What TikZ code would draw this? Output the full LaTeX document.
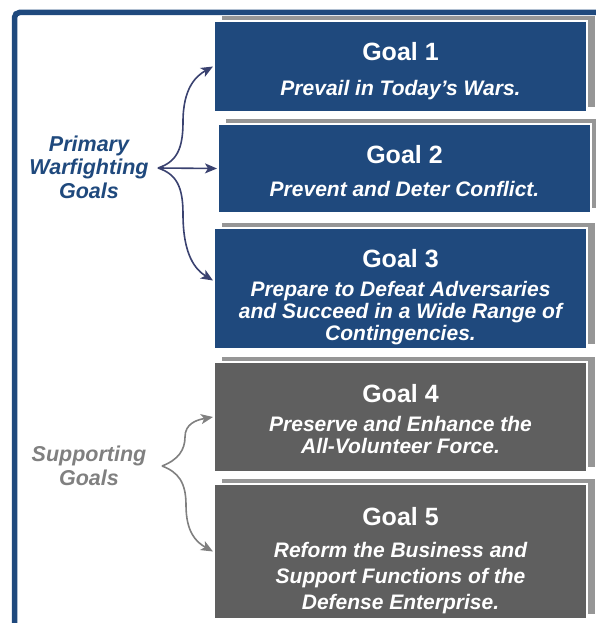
\documentclass[tikz,border=0pt]{standalone}
\usepackage{fontspec}
\setmainfont{Liberation Sans}
\usetikzlibrary{arrows.meta,positioning,shadows}
\definecolor{goalblue}{RGB}{31,73,125}
\definecolor{goalgray}{RGB}{95,95,95}
\definecolor{shadegray}{RGB}{150,150,150}
\definecolor{arrowblue}{RGB}{58,66,112}
\definecolor{arrowgray}{RGB}{128,128,128}
\begin{document}
\begin{tikzpicture}[
    x=1pt,y=-1pt,
    goal/.style={anchor=north west,minimum width=373pt,draw=white,
        line width=2pt,inner sep=0pt,
        general shadow={fill=shadegray,shadow xshift=8pt,shadow yshift=5pt}},
    ttl/.style={anchor=base,text=white,
        font=\fontsize{25}{28}\selectfont\bfseries},
    sub/.style={anchor=base,text=white,align=center,
        font=\fontsize{21}{#1}\selectfont\bfseries\itshape},
    sub/.default=22,
    side/.style={align=center,
        font=\fontsize{21.5}{23.5}\selectfont\bfseries\itshape},
    conn/.style={line width=1.6pt,
        -{Stealth[length=12pt,width=10pt,inset=3pt]}}]
    \useasboundingbox (0,0) rectangle (596,623);
    \clip (0,0) rectangle (596,623);
    \draw[goalblue,line width=5.5pt,rounded corners=5pt]
        (14.5,12.5) rectangle (700,700);
    \node[goal,fill=goalblue,minimum height=91pt] (b1) at (213,20) {};
    \node[goal,fill=goalblue,minimum height=89pt] (b2) at (217,123) {};
    \node[goal,fill=goalblue,minimum height=121pt] (b3) at (213,227) {};
    \node[goal,fill=goalgray,minimum height=110pt] (b4) at (213,361) {};
    \node[goal,fill=goalgray,minimum height=135pt] (b5) at (213,483) {};
    \node[ttl] (t1) at ([yshift=-41pt]b1.north) {Goal 1};
    \node[sub] at ([yshift=-34.5pt]t1.base) {Prevail in Today's Wars.};
    \node[ttl] (t2) at ([yshift=-40pt]b2.north) {Goal 2};
    \node[sub] at ([yshift=-33.5pt]t2.base) {Prevent and Deter Conflict.};
    \node[ttl] (t3) at ([yshift=-40pt]b3.north) {Goal 3};
    \node[sub] at ([yshift=-73.5pt]t3.base)
        {Prepare to Defeat Adversaries\\and Succeed in a Wide Range of\\Contingencies.};
    \node[ttl] (t4) at ([yshift=-41pt]b4.north) {Goal 4};
    \node[sub] at ([yshift=-51.5pt]t4.base)
        {Preserve and Enhance the\\All-Volunteer Force.};
    \node[ttl] (t5) at ([yshift=-42pt]b5.north) {Goal 5};
    \node[sub=26] at ([yshift=-84.5pt]t5.base)
        {Reform the Business and\\Support Functions of the\\Defense Enterprise.};
    \node[side,text=goalblue] (prim) at (89,167) {Primary\\Warfighting\\Goals};
    \node[side,text=arrowgray] (supp) at (89,466) {Supporting\\Goals};
    \coordinate (pw) at (158,168);
    \coordinate (ps) at (162,466);
    \draw[conn,arrowblue] (pw) .. controls (176,162) and (183,150) ..
        (183,122) .. controls (183,88) and (196,76) .. (b1.west);
    \draw[conn,arrowblue] (pw) -- (b2.west);
    \draw[conn,arrowblue] (pw) .. controls (176,174) and (183,186) ..
        (183,214) .. controls (183,256) and (196,270) .. ([yshift=8pt]b3.west);
    \draw[conn,arrowgray] (ps) .. controls (178,460) and (185,450) ..
        (185,437) .. controls (185,424) and (196,420) .. (b4.west);
    \draw[conn,arrowgray] (ps) .. controls (178,472) and (186,482) ..
        (186,505) .. controls (186,532) and (196,542) .. (b5.west);
\end{tikzpicture}
\end{document}
